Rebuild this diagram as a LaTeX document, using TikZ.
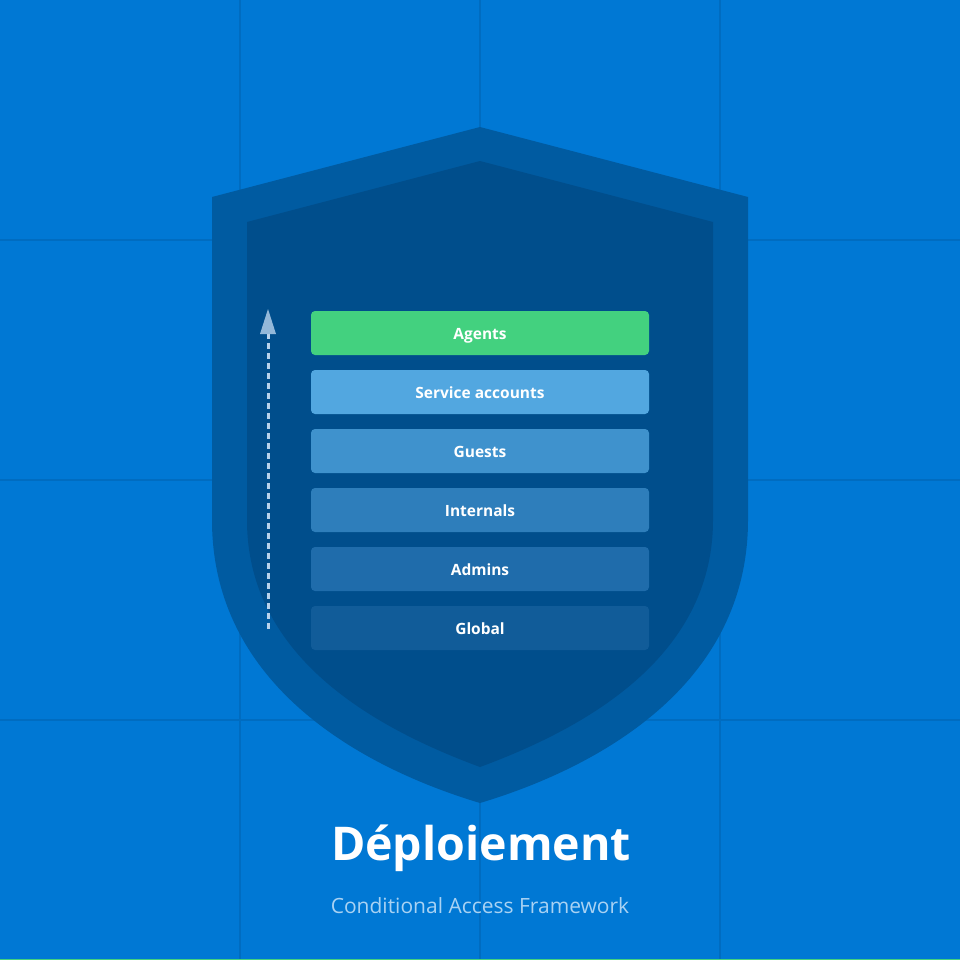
\documentclass[tikz,border=0pt]{standalone}
\usepackage{fontspec}
\setmainfont{Open Sans}
\usetikzlibrary{arrows.meta}
\definecolor{bgblue}{HTML}{0078D4}
\definecolor{gridblue}{HTML}{006CC0}
\definecolor{shieldout}{HTML}{005BA1}
\definecolor{shieldin}{HTML}{004E8C}
\definecolor{cagents}{HTML}{43D17F}
\definecolor{cservice}{HTML}{52A7E0}
\definecolor{cguests}{HTML}{3F92CD}
\definecolor{cinternals}{HTML}{2E7EBB}
\definecolor{cadmins}{HTML}{1F6CAB}
\definecolor{cglobal}{HTML}{115C99}
\definecolor{subtxt}{HTML}{A9D2F3}
\definecolor{arrowc}{HTML}{B8D2EC}
\definecolor{greenline}{HTML}{43D17F}
\tikzset{
  layerbox/.style={rounded corners=4pt, minimum width=338pt, minimum height=44pt,
    inner sep=0pt, text height=12pt, text depth=0pt, text=white,
    font=\fontsize{15.5}{18}\selectfont\bfseries, anchor=center},
  gridline/.style={gridblue, line width=1.2pt},
}
\begin{document}
\begin{tikzpicture}[x=1pt,y=-1pt]
\useasboundingbox (0,0) rectangle (960,974);
% background
\fill[white] (0,0) rectangle (960,974);
\fill[bgblue] (0,0) rectangle (960,959);
\fill[greenline] (0,958.6) rectangle (960,960);
% grid
\foreach \g in {240,480,720} {
  \draw[gridline] (\g,0) -- (\g,958.6);
  \draw[gridline] (0,\g) -- (960,\g);
}
% shield outer
\fill[shieldout] (480,127) -- (212,197) -- (212,520)
  .. controls (212,690) and (370,770) .. (480,803)
  .. controls (590,770) and (748,690) .. (748,520)
  -- (748,197) -- cycle;
% shield inner
\fill[shieldin] (480,161) -- (247,222) -- (247,520)
  .. controls (247,660) and (380,730) .. (480,767)
  .. controls (580,730) and (713,660) .. (713,520)
  -- (713,222) -- cycle;
% layers
\node[layerbox, fill=cagents]    (agents)    at (480,333) {Agents};
\node[layerbox, fill=cservice]   (service)   at (480,392) {Service accounts};
\node[layerbox, fill=cguests]    (guests)    at (480,451) {Guests};
\node[layerbox, fill=cinternals] (internals) at (480,510) {Internals};
\node[layerbox, fill=cadmins]    (admins)    at (480,569) {Admins};
\node[layerbox, fill=cglobal]    (global)    at (480,628) {Global};
% arrow
\coordinate (arrbot) at (268,629);
\coordinate (arrtop) at (268,309);
\draw[arrowc, line width=3pt, dash pattern=on 6pt off 4pt,
  -{Triangle[length=25pt,width=16pt,line width=0pt,fill=arrowc!80!shieldin]}] (arrbot) -- (arrtop);
% title
\node[text=white, font=\fontsize{46.5}{52}\selectfont\bfseries, anchor=base] (title) at (481,860) {Déploiement};
\node[text=subtxt, font=\fontsize{21}{25}\selectfont, anchor=base] (subtitle) at (480,913) {Conditional Access Framework};
\end{tikzpicture}
\end{document}
